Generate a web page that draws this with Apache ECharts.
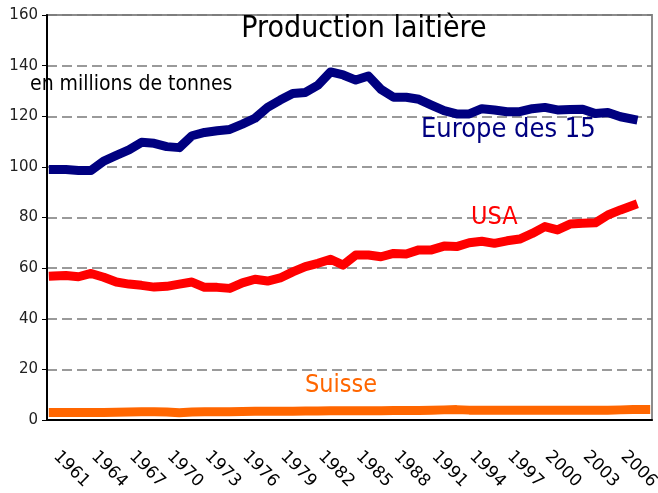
<!DOCTYPE html>
<html>
<head>
<meta charset="utf-8">
<script src="https://cdn.jsdelivr.net/npm/echarts@6/dist/echarts.min.js"></script>
<style>
  html, body { margin: 0; padding: 0; background: #fff; }
  #chart { width: 658px; height: 493px; }
</style>
</head>
<body>
<div id="chart"></div>
<script>
// années (axe des x)
var years = ["1961", "1962", "1963", "1964", "1965", "1966", "1967", "1968", "1969", "1970",
  "1971", "1972", "1973", "1974", "1975", "1976", "1977", "1978", "1979", "1980",
  "1981", "1982", "1983", "1984", "1985", "1986", "1987", "1988", "1989", "1990",
  "1991", "1992", "1993", "1994", "1995", "1996", "1997", "1998", "1999", "2000",
  "2001", "2002", "2003", "2004", "2005", "2006", "2007", "2008"];

// production en millions de tonnes
var europe15 = [99.0, 99.0, 98.6, 98.6, 102.3, 104.5, 106.7, 109.7, 109.3, 108.0,
  107.6, 112.3, 113.6, 114.3, 114.8, 116.9, 119.2, 123.5, 126.4, 129.0,
  129.4, 132.3, 137.5, 136.3, 134.3, 135.9, 130.6, 127.5, 127.5, 126.7,
  124.4, 122.2, 120.9, 120.9, 123.0, 122.5, 121.8, 121.8, 123.0, 123.5,
  122.5, 122.7, 122.8, 121.1, 121.5, 119.8, 118.8];
var usa = [56.9, 57.1, 56.6, 57.9, 56.4, 54.5, 53.7, 53.2, 52.5, 52.8,
  53.7, 54.5, 52.4, 52.4, 52.0, 54.2, 55.6, 54.9, 56.1, 58.5,
  60.6, 61.9, 63.5, 61.2, 65.2, 65.2, 64.5, 65.8, 65.6, 67.2,
  67.2, 68.7, 68.5, 70.0, 70.6, 69.8, 70.8, 71.5, 73.7, 76.4,
  75.1, 77.4, 77.7, 77.9, 81.0, 83.0, 84.8];
var suisse = [3.0, 3.0, 3.0, 3.0, 3.0, 3.1, 3.2, 3.3, 3.3, 3.2,
  2.9, 3.2, 3.3, 3.3, 3.3, 3.4, 3.5, 3.5, 3.5, 3.5,
  3.6, 3.6, 3.7, 3.7, 3.7, 3.7, 3.7, 3.8, 3.8, 3.8,
  3.9, 4.0, 4.1, 3.9, 3.9, 3.9, 3.9, 3.9, 3.9, 3.9,
  3.9, 3.9, 3.9, 3.9, 3.9, 4.0, 4.1, 4.1];

var yTicks = [0, 20, 40, 60, 80, 100, 120, 140, 160];

var chart = echarts.init(document.getElementById("chart"));

var labelFont = "'DejaVu Sans Condensed', 'DejaVu Sans', sans-serif";

chart.setOption({
  animation: false,
  grid: {
    left: 47,
    right: 6,
    top: 15,
    bottom: 73,
    show: true,
    borderColor: "#8c8c8c",
    borderWidth: 2,
    outerBoundsMode: "none"
  },
  xAxis: {
    type: "category",
    data: years,
    boundaryGap: true,
    axisLine: { lineStyle: { color: "#000", width: 2 } },
    axisTick: { interval: 0, length: 7, lineStyle: { color: "#000", width: 2 } },
    axisLabel: {
      interval: 2,
      rotate: -45,
      margin: 31,
      padding: [0, 0, 0, 4],
      fontFamily: "'DejaVu Sans', sans-serif",
      fontSize: 17,
      color: "#000"
    },
    splitLine: { show: false }
  },
  yAxis: {
    type: "value",
    min: yTicks[0],
    max: yTicks[yTicks.length - 1],
    interval: 20,
    axisLine: { show: true, lineStyle: { color: "#000", width: 2 } },
    axisTick: { show: true, length: 5, lineStyle: { color: "#000", width: 1 } },
    axisLabel: {
      margin: 9,
      fontFamily: "'DejaVu Sans', sans-serif",
      fontSize: 15,
      color: "#222"
    },
    splitLine: {
      lineStyle: { color: "#7a7a7a", width: 1.5, type: [10, 5] }
    }
  },
  series: [
    {
      name: "Europe des 15",
      type: "line",
      data: europe15,
      symbol: "none",
      lineStyle: { color: "#000080", width: 9, cap: "square", join: "round" }
    },
    {
      name: "USA",
      type: "line",
      data: usa,
      symbol: "none",
      lineStyle: { color: "#ff0000", width: 9, cap: "square", join: "round" }
    },
    {
      name: "Suisse",
      type: "line",
      data: suisse,
      symbol: "none",
      lineStyle: { color: "#ff6600", width: 9, cap: "square", join: "round" }
    }
  ],
  graphic: [
    {
      type: "text", x: 364, y: 29, z: 10,
      style: { text: "Production laitière", fill: "#000", font: "30px " + labelFont,
        textAlign: "center", textVerticalAlign: "middle" }
    },
    {
      type: "text", x: 30, y: 85, z: 1,
      style: { text: "en millions de tonnes", fill: "#000", font: "21px " + labelFont,
        textAlign: "left", textVerticalAlign: "middle" }
    },
    {
      type: "text", x: 421, y: 130, z: 10,
      style: { text: "Europe des 15", fill: "#000080", font: "27px " + labelFont,
        textAlign: "left", textVerticalAlign: "middle" }
    },
    {
      type: "text", x: 471, y: 217, z: 10,
      style: { text: "USA", fill: "#ff0000", font: "25px " + labelFont,
        textAlign: "left", textVerticalAlign: "middle" }
    },
    {
      type: "text", x: 305, y: 385, z: 10,
      style: { text: "Suisse", fill: "#ff6600", font: "25px " + labelFont,
        textAlign: "left", textVerticalAlign: "middle" }
    }
  ]
});

window.addEventListener("resize", function () {
  chart.resize();
});
</script>
</body>
</html>
